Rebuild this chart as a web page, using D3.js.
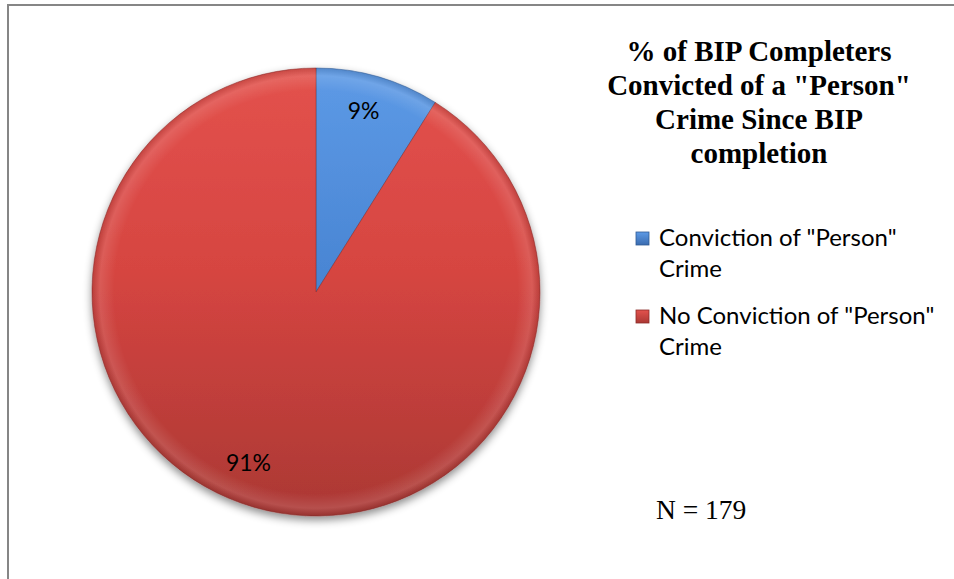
<!DOCTYPE html>
<html>
<head>
<meta charset="utf-8">
<script src="https://cdn.jsdelivr.net/npm/d3@7"></script>
<style>
  body { margin: 0; background: #fff; }
  svg { display: block; }
</style>
</head>
<body>
<svg id="chart"></svg>
<script>
// chart data
var categories = ["Conviction of \"Person\" Crime", "No Conviction of \"Person\" Crime"];
var counts = [16, 163];
var sliceLabels = ["9%", "91%"];
var legendLines = [["Conviction of \"Person\"", "Crime"], ["No Conviction of \"Person\"", "Crime"]];
var titleLines = ["% of BIP Completers", "Convicted of a \"Person\"", "Crime Since BIP", "completion"];
var noteText = "N = 179";

var width = 954, height = 579;
var cx = 316, cy = 292, radius = 224;

var svg = d3.select("#chart")
    .attr("width", width)
    .attr("height", height);

var defs = svg.append("defs");

// shading for each slice, light at top and darker toward the bottom
var shades = [
    { id: "gradBlue", top: "#5d9ae6", mid: "#4a86d4", bottom: "#3a6cb0", edge: "#2f5a94" },
    { id: "gradRed", top: "#e3524d", mid: "#d64541", bottom: "#ab3834", edge: "#8c2c29" }
];
shades.forEach(function(s) {
    var g = defs.append("linearGradient")
        .attr("id", s.id)
        .attr("gradientUnits", "userSpaceOnUse")
        .attr("x1", 0).attr("y1", -radius)
        .attr("x2", 0).attr("y2", radius);
    g.append("stop").attr("offset", "0%").attr("stop-color", s.top);
    g.append("stop").attr("offset", "45%").attr("stop-color", s.mid);
    g.append("stop").attr("offset", "100%").attr("stop-color", s.bottom);
});

// small legend swatch gradient (object bounding box)
shades.forEach(function(s) {
    var g = defs.append("linearGradient")
        .attr("id", s.id + "Key")
        .attr("x1", 0).attr("y1", 0)
        .attr("x2", 0).attr("y2", 1);
    g.append("stop").attr("offset", "0%").attr("stop-color", s.top);
    g.append("stop").attr("offset", "100%").attr("stop-color", s.bottom);
});

// soft bevel glow near the rim
var rim = defs.append("radialGradient")
    .attr("id", "rim")
    .attr("gradientUnits", "userSpaceOnUse")
    .attr("cx", 0).attr("cy", 0).attr("r", radius);
rim.append("stop").attr("offset", "0.9").attr("stop-color", "#fff").attr("stop-opacity", 0);
rim.append("stop").attr("offset", "0.965").attr("stop-color", "#fff").attr("stop-opacity", 0.12);
rim.append("stop").attr("offset", "1").attr("stop-color", "#000").attr("stop-opacity", 0.12);

var shadow = defs.append("filter")
    .attr("id", "shadow")
    .attr("x", "-20%").attr("y", "-20%")
    .attr("width", "140%").attr("height", "140%");
shadow.append("feDropShadow")
    .attr("dx", 0).attr("dy", 4)
    .attr("stdDeviation", 4)
    .attr("flood-color", "#000")
    .attr("flood-opacity", 0.45);

// outer frame (top and left edges visible)
svg.append("path")
    .attr("d", d3.line()([[8, height], [8, 5], [width, 5]]))
    .attr("fill", "none")
    .attr("stroke", "#868686")
    .attr("stroke-width", 2);

var pie = d3.pie().sort(null).value(function(d) { return d; });
var arcs = pie(counts);

var arc = d3.arc().innerRadius(0).outerRadius(radius);
var labelArc = d3.arc().innerRadius(radius * 0.83).outerRadius(radius * 0.83);

var g = svg.append("g")
    .attr("transform", "translate(" + cx + "," + cy + ")");

g.append("g")
    .attr("filter", "url(#shadow)")
    .selectAll("path")
    .data(arcs)
    .enter()
    .append("path")
    .attr("d", arc)
    .attr("fill", function(d, i) { return "url(#" + shades[i].id + ")"; })
    .attr("stroke", function(d, i) { return shades[i].edge; })
    .attr("stroke-opacity", 0.5)
    .attr("stroke-width", 1);

g.selectAll("path.rim")
    .data(arcs)
    .enter()
    .append("path")
    .attr("class", "rim")
    .attr("d", arc)
    .attr("fill", "url(#rim)");

var labelNudge = [[-4, -2], [-16, -8]];
g.selectAll("text.slice")
    .data(arcs)
    .enter()
    .append("text")
    .attr("class", "slice")
    .attr("transform", function(d, i) {
        var c = labelArc.centroid(d);
        return "translate(" + (c[0] + labelNudge[i][0]) + "," + (c[1] + labelNudge[i][1]) + ")";
    })
    .attr("text-anchor", "middle")
    .attr("dy", "0.35em")
    .style("font-family", "Lato, 'Open Sans', sans-serif")
    .style("font-size", "23px")
    .style("fill", "#000")
    .text(function(d, i) { return sliceLabels[i]; });

// title
svg.append("text")
    .attr("x", 759)
    .attr("y", 61)
    .attr("text-anchor", "middle")
    .style("font-family", "'Liberation Serif', 'Times New Roman', serif")
    .style("font-weight", "bold")
    .style("font-size", "29px")
    .style("fill", "#000")
    .selectAll("tspan")
    .data(titleLines)
    .enter()
    .append("tspan")
    .attr("x", 759)
    .attr("dy", function(d, i) { return i === 0 ? 0 : 34; })
    .text(function(d) { return d; });

// legend
var legend = svg.append("g")
    .attr("transform", "translate(636,0)");

var legendY = [238, 316];
var item = legend.selectAll("g.item")
    .data(categories)
    .enter()
    .append("g")
    .attr("class", "item")
    .attr("transform", function(d, i) { return "translate(0," + legendY[i] + ")"; });

item.append("rect")
    .attr("x", 0).attr("y", -6)
    .attr("width", 13).attr("height", 13)
    .attr("fill", function(d, i) { return "url(#" + shades[i].id + "Key)"; })
    .attr("stroke", function(d, i) { return shades[i].edge; })
    .attr("stroke-width", 0.8);

item.append("text")
    .attr("x", 23)
    .attr("y", 0)
    .style("font-family", "Lato, 'Open Sans', sans-serif")
    .style("font-size", "24px")
    .style("fill", "#000")
    .selectAll("tspan")
    .data(function(d, i) { return legendLines[i]; })
    .enter()
    .append("tspan")
    .attr("x", 23)
    .attr("dy", function(d, j) { return j === 0 ? "0.35em" : "31px"; })
    .text(function(d) { return d; });

// sample size note
svg.append("text")
    .attr("x", 656)
    .attr("y", 519)
    .style("font-family", "'Liberation Serif', 'Times New Roman', serif")
    .style("font-size", "27.5px")
    .style("fill", "#000")
    .text(noteText);
</script>
</body>
</html>
